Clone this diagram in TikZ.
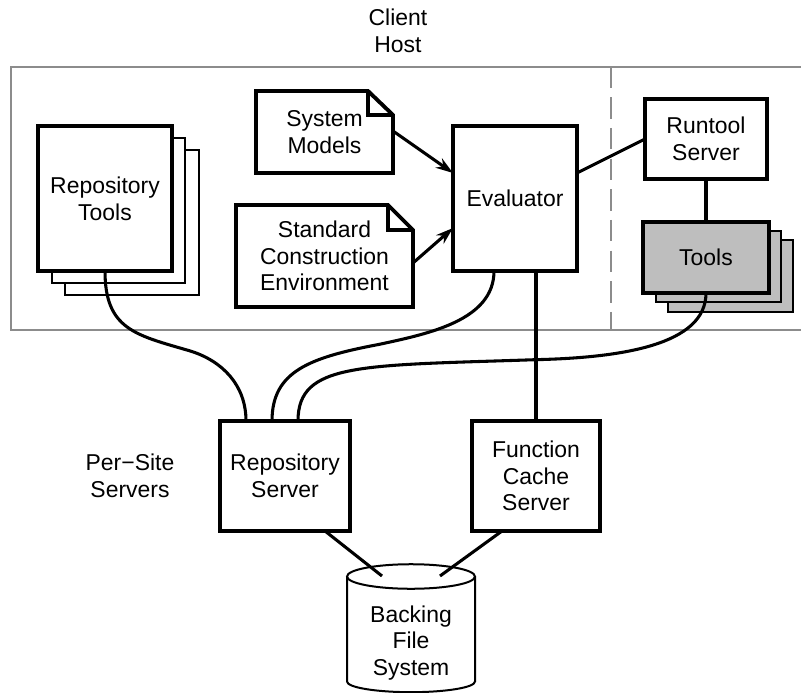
\documentclass[tikz,border=0pt]{standalone}
\usepackage{fontspec}
\setmainfont{Liberation Sans}
\tikzset{
  px/.style={x=.75pt,y=-.75pt},
  bx/.style 2 args={minimum width=#1*.75pt,minimum height=#2*.75pt,inner sep=0pt,outer sep=0pt},
  lab/.style={align=center,font=\fontsize{17.2}{20}\selectfont},
  heavy/.style={draw=black,line width=2.9pt,fill=white,lab},
  thinpage/.style={draw=black,line width=1.4pt,fill=white},
  grayfront/.style={heavy,fill=toolgray},
  graypage/.style={draw=black,line width=1.4pt,fill=toolgray},
  notetext/.style={lab,inner sep=0pt,outer sep=0pt},
  noteline/.style={draw=black,line width=2.9pt,fill=white,line join=miter},
  link/.style={draw=black,line width=2.3pt},
  arrowlink/.style={link,-{Stealth[length=13pt,width=8.5pt]}},
  frameline/.style={draw=framegray,line width=1.5pt},
  disk/.style={draw=black,line width=1.5pt,fill=white}
}
\definecolor{toolgray}{HTML}{BEBEBE}
\definecolor{framegray}{HTML}{8C8C8C}
\usetikzlibrary{arrows.meta}
\begin{document}
\begin{tikzpicture}[px]
\useasboundingbox (0,0) rectangle (801,693);
% frame
\coordinate (ftr) at (801,66.5);
\coordinate (ftl) at (10.5,66.5);
\coordinate (fbl) at (10.5,330);
\coordinate (fbr) at (801,330);
\draw[frameline] (ftr) -- (ftl) -- (fbl) -- (fbr);
\coordinate (dt) at (610.7,66.5);
\coordinate (db) at (610.7,330);
\draw[frameline,dash pattern=on 16pt off 7pt] (dt) -- (db);
% titles
\node[lab] (client) at (398,31) {Client\\Host};
\node[lab] (persite) at (130,476) {Per−Site\\Servers};
% repository tools
\node[thinpage,bx={134}{145}] (rt3) at (132,222.5) {};
\node[thinpage,bx={133}{145}] (rt2) at (118.5,210.5) {};
\node[heavy,bx={134}{145}] (rt) at (105,198.5) {Repository\\Tools};
% notes
\node[notetext,bx={137}{82}] (sm) at (324.5,132) {};
\draw[noteline] (sm.north west) -- ([xshift=-18.75pt]sm.north east) -- ([yshift=-18pt]sm.north east) -- (sm.south east) -- (sm.south west) -- cycle;
\draw[noteline,fill=none] ([xshift=-18.75pt]sm.north east) -- ([xshift=-18.75pt,yshift=-18pt]sm.north east) -- ([yshift=-18pt]sm.north east);
\node[notetext] at (sm.center) {System\\Models};
\node[notetext,bx={177}{102}] (sc) at (324.5,256) {};
\draw[noteline] (sc.north west) -- ([xshift=-18.75pt]sc.north east) -- ([yshift=-18.75pt]sc.north east) -- (sc.south east) -- (sc.south west) -- cycle;
\draw[noteline,fill=none] ([xshift=-18.75pt]sc.north east) -- ([xshift=-18.75pt,yshift=-18.75pt]sc.north east) -- ([yshift=-18.75pt]sc.north east);
\node[notetext] at (sc.center) {Standard\\Construction\\Environment};
% evaluator and right side
\node[heavy,bx={124}{145}] (ev) at (515,198.5) {Evaluator};
\node[heavy,bx={122}{80}] (rs) at (706,139) {Runtool\\Server};
\node[graypage,bx={125}{72}] (tl3) at (730.5,276) {};
\node[graypage,bx={125}{71}] (tl2) at (718.5,266.5) {};
\node[grayfront,bx={126}{71}] (tl) at (706,257.5) {Tools};
% servers
\node[heavy,bx={130}{110}] (rp) at (285,476) {Repository\\Server};
\node[heavy,bx={128}{110}] (fc) at (536,476) {Function\\Cache\\Server};
% backing store
\node[notetext,bx={128}{105}] (bf) at (411,629) {};
\draw[disk] (bf.north west) -- ([yshift=-78.75pt]bf.north west) arc[start angle=180,end angle=360,x radius=48pt,y radius=8pt] -- (bf.north east);
\draw[disk] (bf.north) ellipse[x radius=48pt,y radius=9.2pt];
\node[notetext] at (411,643) {Backing\\File\\System};
% connectors
\draw[arrowlink] ([yshift=-30pt]sm.north east) -- ([yshift=-35.25pt]ev.north west);
\draw[arrowlink] ([yshift=33pt]sc.south east) -- ([yshift=32.25pt]ev.south west);
\draw[link] ([yshift=-35.25pt]ev.north east) -- ([yshift=30pt]rs.south west);
\draw[link] (rs.south) -- (tl.north);
\draw[link] ([xshift=15.75pt]ev.south) -- (fc.north);
\draw[link] (rt.south) .. controls +(0,-44pt) and +(-41pt,12pt) .. ++(64pt,-60pt) coordinate (rtm)
   .. controls +(24pt,-7.5pt) and ([xshift=-29.25pt,yshift=27pt]rp.north) .. ([xshift=-29.25pt]rp.north);
\draw[link] ([xshift=-15.75pt]ev.south) .. controls +(0,-37pt) and +(37pt,8pt) .. ++(-86pt,-55pt) coordinate (evm)
   .. controls +(-53pt,-10pt) and ([xshift=-9.75pt,yshift=37pt]rp.north) .. ([xshift=-9.75pt]rp.north);
\draw[link] (tl.south) .. controls +(0,-39pt) and +(64pt,1.5pt) .. ([xshift=15.75pt,yshift=-66.5pt]ev.south) coordinate (tlm)
   .. controls +(-132pt,-4.5pt) and ([xshift=9.75pt,yshift=44pt]rp.north) .. ([xshift=9.75pt]rp.north);
\coordinate (diskl) at (382,576);
\coordinate (diskr) at (440,576);
\draw[link] ([xshift=30pt]rp.south) -- (diskl);
\draw[link] ([xshift=-25.5pt]fc.south) -- (diskr);
\end{tikzpicture}
\end{document}
